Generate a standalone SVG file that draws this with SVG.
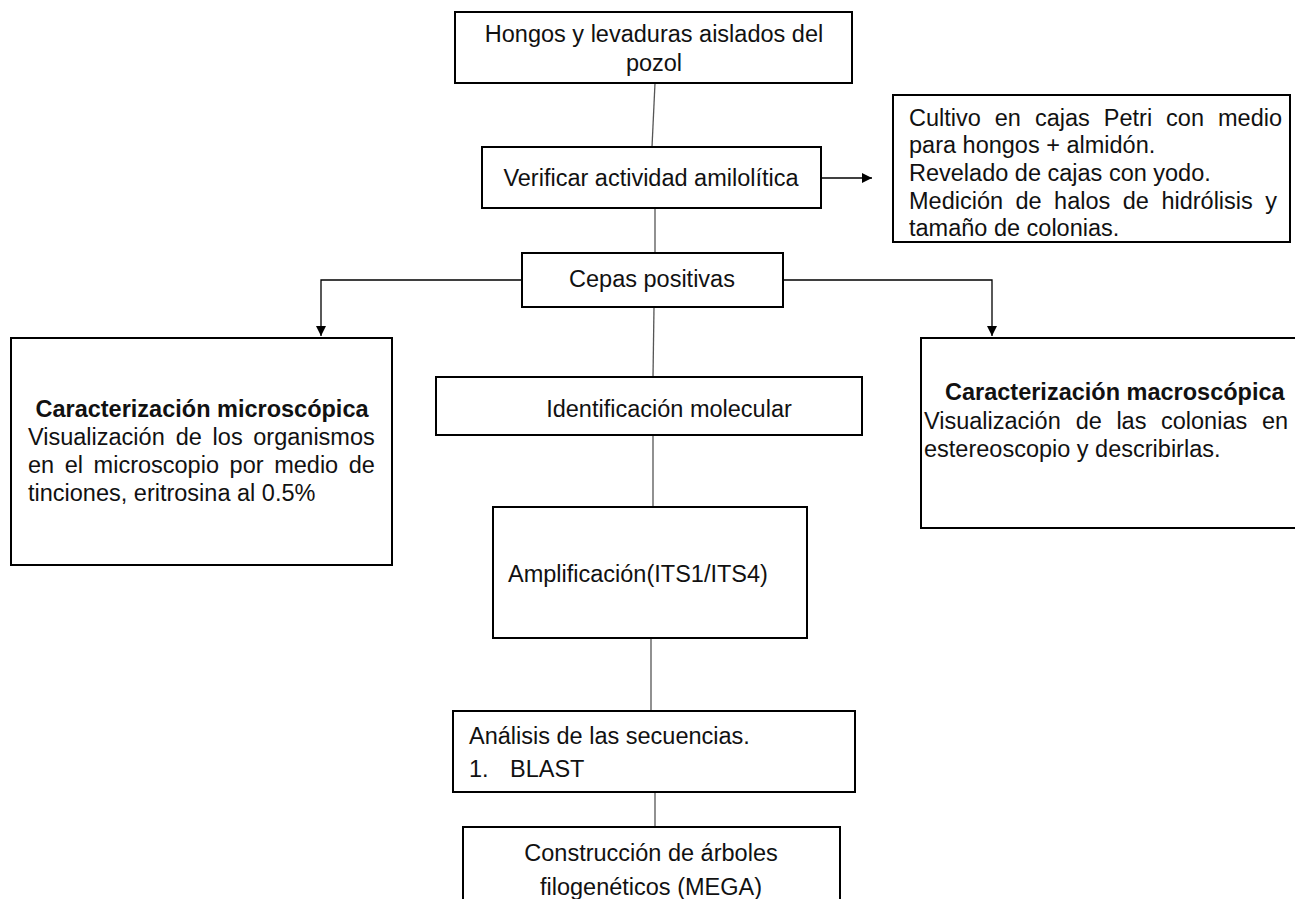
<svg xmlns="http://www.w3.org/2000/svg" width="1295" height="899" viewBox="0 0 1295 899">
<defs>
<marker id="ah" viewBox="0 0 10 10" refX="10" refY="5" markerWidth="11" markerHeight="10" markerUnits="userSpaceOnUse" orient="auto">
<path d="M0,0 L10,5 L0,10 z" fill="#000"/>
</marker>
<style>
.box{fill:#fff;stroke:#000;stroke-width:2}
.t{font-family:"Liberation Sans",Arial,sans-serif;font-size:23.5px;fill:#111}
.c{text-anchor:middle}
.b{font-weight:bold}
.ln{fill:none;stroke:#555;stroke-width:1.3}
.ar{fill:none;stroke:#000;stroke-width:1.3}
</style>
</defs>
<rect width="1295" height="899" fill="#fff"/>
<g id="connectors">
<line class="ln" x1="655" y1="83" x2="652" y2="147"/>
<line class="ln" x1="655" y1="208" x2="655" y2="253"/>
<line class="ar" x1="821" y1="178" x2="872" y2="178" marker-end="url(#ah)"/>
<polyline class="ar" points="522,280 321,280 321,336" marker-end="url(#ah)"/>
<polyline class="ar" points="783,280 992,280 992,336" marker-end="url(#ah)"/>
<line class="ln" x1="654" y1="307" x2="653" y2="377"/>
<line class="ln" x1="653" y1="436" x2="653" y2="507"/>
<line class="ln" x1="651" y1="638" x2="651" y2="711"/>
<line class="ln" x1="655" y1="792" x2="655" y2="827"/>
</g>
<g id="n1">
<rect class="box" x="455" y="12" width="397" height="71"/>
<text class="t c" x="654" y="42">Hongos y levaduras aislados del</text>
<text class="t c" x="654" y="71">pozol</text>
</g>
<g id="n2">
<rect class="box" x="482" y="147" width="339" height="61"/>
<text class="t c" x="651" y="186">Verificar actividad amilolítica</text>
</g>
<g id="n3">
<rect class="box" x="893" y="95" width="397" height="147"/>
<text class="t" y="126"><tspan x="909">Cultivo</tspan><tspan x="994.8">en</tspan><tspan x="1034.9">cajas</tspan><tspan x="1103.8">Petri</tspan><tspan x="1166.1">con</tspan><tspan x="1218">medio</tspan></text>
<text class="t" x="909" y="153">para hongos + almidón.</text>
<text class="t" x="909" y="181">Revelado de cajas con yodo.</text>
<text class="t" y="209"><tspan x="909">Medición</tspan><tspan x="1015.5">de</tspan><tspan x="1054.1">halos</tspan><tspan x="1122.8">de</tspan><tspan x="1161.4">hidrólisis</tspan><tspan x="1265.3">y</tspan></text>
<text class="t" x="909" y="236">tamaño de colonias.</text>
</g>
<g id="n4">
<rect class="box" x="522" y="253" width="261" height="54"/>
<text class="t c" x="652" y="287">Cepas positivas</text>
</g>
<g id="n5">
<rect class="box" x="11" y="338" width="381" height="227"/>
<text class="t c b" x="202" y="417">Caracterización microscópica</text>
<text class="t" y="445"><tspan x="28">Visualización</tspan><tspan x="175.8">de</tspan><tspan x="212.6">los</tspan><tspan x="253.3">organismos</tspan></text>
<text class="t" y="473"><tspan x="28">en</tspan><tspan x="64.7">el</tspan><tspan x="93.6">microscopio</tspan><tspan x="229.6">por</tspan><tspan x="274.2">medio</tspan><tspan x="348.8">de</tspan></text>
<text class="t" x="28" y="501">tinciones, eritrosina al 0.5%</text>
</g>
<g id="n6">
<rect class="box" x="921" y="338" width="380" height="190"/>
<text class="t b" x="945" y="400">Caracterización macroscópica</text>
<text class="t" y="429"><tspan x="924">Visualización</tspan><tspan x="1075.7">de</tspan><tspan x="1116.4">las</tspan><tspan x="1161">colonias</tspan><tspan x="1261.9">en</tspan></text>
<text class="t" x="924" y="457">estereoscopio y describirlas.</text>
</g>
<g id="n7">
<rect class="box" x="436" y="377" width="426" height="58"/>
<text class="t c" x="669" y="417">Identificación molecular</text>
</g>
<g id="n8">
<rect class="box" x="493" y="507" width="314" height="131"/>
<text class="t" x="508" y="582">Amplificación(ITS1/ITS4)</text>
</g>
<g id="n9">
<rect class="box" x="453" y="711" width="402" height="81"/>
<text class="t" x="469" y="744">Análisis de las secuencias.</text>
<text class="t" y="777"><tspan x="469">1.</tspan><tspan x="510">BLAST</tspan></text>
</g>
<g id="n10">
<rect class="box" x="463" y="827" width="377" height="90"/>
<text class="t c" x="651" y="861">Construcción de árboles</text>
<text class="t c" x="651" y="895">filogenéticos (MEGA)</text>
</g>
</svg>
